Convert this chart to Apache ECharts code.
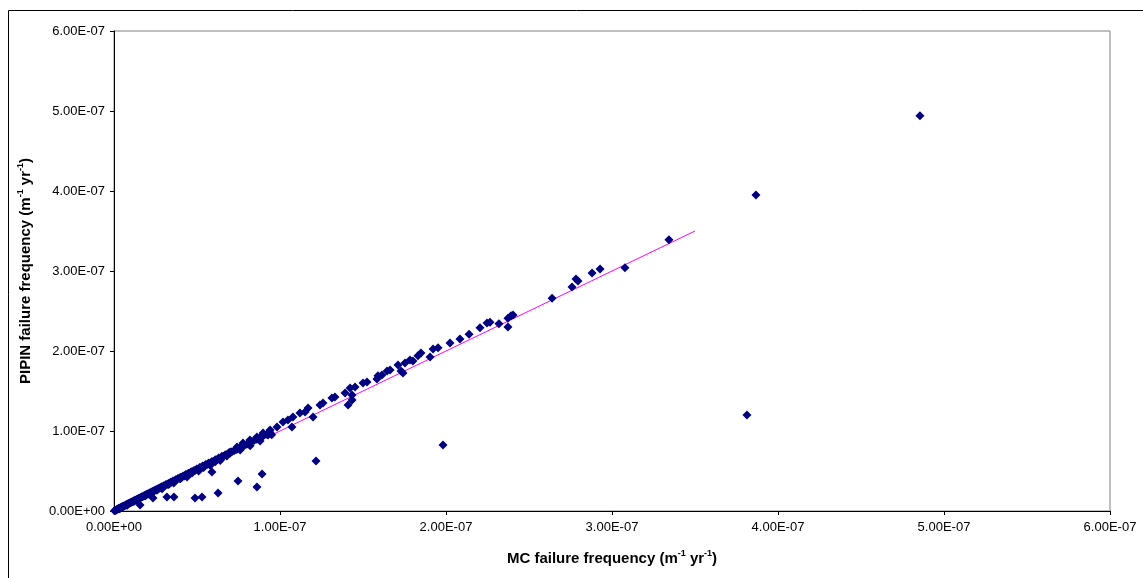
<!DOCTYPE html>
<html>
<head>
<meta charset="utf-8">
<script src="https://cdn.jsdelivr.net/npm/echarts@6/dist/echarts.min.js"></script>
<style>html,body{margin:0;padding:0;background:#fff}#c{width:1143px;height:578px}</style>
</head>
<body>
<div id="c"></div>
<script>
// values in units of 1e-9 (m^-1 yr^-1): [MC, PIPIN]
const UNIT = 1e-9;
const bandPoints = [
 [0.3,0.3],[0.6,0.7],[1,1],[1.3,1.4],[1.7,1.8],[2,2.1],[2.4,2.5],[2.8,3],[3.1,3.2],[3.5,3.7],[4,4.1],[4.3,4.6],[4.8,5],[5.2,5.5],[5.6,5.8],[6,6.4],[6.5,6.7],[7,7.4],[7.4,7.7],[7.9,8.4],[8.3,8.6],[8.8,9.3],[9.2,9.6],[9.7,10.3],[10.2,10.5],[10.6,11.3],[11.1,11.6],[11.6,12.3],[12,12.4],[12.5,13.3],[13,13.5],[13.5,14.3],[14,14.4],[14.6,15.5],[15,15.6],[15.6,16.4],[16.1,16.8],[16.7,17.7],[17.2,17.8],[17.8,18.9],[18.3,19],[18.9,20],[19.4,20.2],[20,21.2],[20.6,21.4],[21.2,22.4],[21.8,22.6],[22.4,23.7],[23,23.8],[23.6,25],[24.2,25.1],[24.8,26.3],[25.4,26.4],[26,27.5],[26.7,27.7],[27.3,28.9],[28,29],[28.6,30.2],[29.3,30.3],[30,31.6],[30.6,31.7],[31.3,33],[32,33.1],[32.7,34.5],[33.4,34.5],[34,35.9],[34.8,36],[35.5,37.4],[36.2,37.4],[37,39],[37.7,39],[38.5,40.6],[39.2,40.5],[40,42.1],[40.8,42.2],[41.6,43.8],[42.4,43.9],[43.2,45.5],[44,45.6],[44.8,47.1],[45.6,47.2],[46.5,49],[47.3,49],[48.2,50.7],[49,50.8],[49.9,52.5],[50.7,52.6],[51.6,54.3],[52.5,54.3],[53.4,56.2],[54.3,56.2],[55.2,58],[56.1,58.1],[57,60],[58,60],[59,62],[60,62],[61,64.1],[62,64.1],[63,66.2],[64,66],[65,68.3],[66,68.2],[67,70.4],[68,70.3],[69,72.5],[70,72.5],
 [5,5],[12,12.1],[19,19.2],[26,26.2],[33,33.2],[40,40.3],[47,47.5],[54,54.5],[61,61.6],[68,68.7],
 [3.5,2.9],[8,7.3],[14.5,13.6],[22,20.8],[29,27.8],[36,35],[44,42.6],[51,50],[58,57],[64,63],
 [71,74],[72.5,75.5],[74,77],[75.5,78.8],[77,80.5],[78.5,82],[80,83.5],[81.5,85.2],[83,86.5],[84.5,88.3],[86,89.6],[88,91.8],[90,94],[92,96],[94,98],[76,76.3],[82,81.5],[88,87.6],[95,95.4]
];
const upperPoints = [
 [69.9,73.8],[74.1,80],[77.7,85],[81.9,88.8],[86.1,92.5],[89.8,97.5],[92.8,95],[94,101.3],[98.2,105],[101.8,111.3],[104.8,113.8],[107.2,105],[107.8,117.5],[112,122.5],[115.1,123.8],[116.9,128.8],[119.9,117.5],[124.1,132.5],[125.9,135],[131.3,141.3],[133.1,142.5],[139.2,147.5],[141,132.5],[143.4,145],[142.2,153.8],[145.2,155],[143.4,138.8],
 [150,160],[152.4,161.3],[158.4,165],[159,169],[161.4,170],[164.5,175],[166.3,176.3],[171.1,182.5],[172.9,175],[174.1,172.5],[175.3,185],[178.3,188.8],[180.1,187.5],[183.1,194],[184.9,197.5],[190.4,192.5],[192.2,202.5],[195.2,204],
 [202.4,210],[208.4,215],[213.9,221],[220.5,229],[224.7,235],[226.5,236],[231.9,234],[237.3,230],[237.3,241],[239.2,244],[240.4,245],
 [263.9,266],[275.9,280],[278.3,290],[279.5,287.5],[288,297.5],[292.8,302.5],[307.8,304],[334.3,339]
];
const outlierPoints = [
 [15.7,7.5],[23.5,16.3],[31.9,17.5],[36.1,17.5],[48.8,16.3],[53,17.5],[62.7,22.5],[59,48.8],[74.7,37.5],[86.1,30],[89.2,46.3],[121.7,62.5],[198.2,82.5],[381.3,120],[386.7,395],[485.5,494]
];
const trendLine = [[0,0],[350,350]];
const xTicks = {min: 0, max: 6e-7, interval: 1e-7};
const yTicks = {min: 0, max: 6e-7, interval: 1e-7};

const toReal = arr => arr.map(p => [p[0]*UNIT, p[1]*UNIT]);
const allPoints = toReal(bandPoints.concat(upperPoints, outlierPoints));

function fmt(v){
  if (Math.abs(v) < 1e-15) return '0.00E+00';
  const s = v.toExponential(2).split('e');
  let e = parseInt(s[1],10);
  const sign = e < 0 ? '-' : '+';
  e = Math.abs(e);
  return s[0] + 'E' + sign + (e < 10 ? '0' + e : '' + e);
}

const FONT = '"Liberation Sans", Arial, sans-serif';
const chart = echarts.init(document.getElementById('c'), null, {renderer:'canvas'});
const richTitle = {
  b: {fontSize: 15, fontWeight: 'bold', fontFamily: FONT, color: '#000', lineHeight: 19},
  sup: {fontSize: 9, fontWeight: 'bold', fontFamily: FONT, color: '#000', verticalAlign: 'top', lineHeight: 11, padding: [0,0,7,0]}
};
chart.setOption({
  animation: false,
  backgroundColor: '#fff',
  graphic: [{
    type: 'rect', silent: true, z: -10,
    shape: {x: 8.5, y: 10.5, width: 1300, height: 800},
    style: {fill: 'none', stroke: '#000', lineWidth: 1}
  }],
  grid: {left: 114, top: 31, right: 33, bottom: 67, show: true, borderColor: '#808080', borderWidth: 1, backgroundColor: 'transparent'},
  xAxis: {
    type: 'value', min: xTicks.min, max: xTicks.max, interval: xTicks.interval,
    name: '{b|MC failure frequency (m}{sup|-1}{b| yr}{sup|-1}{b|)}',
    nameLocation: 'middle', nameGap: 38,
    nameTextStyle: {rich: richTitle},
    axisLine: {show: true, onZero: false, lineStyle: {color: '#000', width: 1}},
    axisTick: {show: true, inside: false, length: 4, lineStyle: {color: '#000'}},
    axisLabel: {formatter: fmt, color: '#000', fontSize: 13, fontFamily: FONT, margin: 10},
    splitLine: {show: false}
  },
  yAxis: {
    type: 'value', min: yTicks.min, max: yTicks.max, interval: yTicks.interval,
    name: '{b|PIPIN failure frequency (m}{sup|-1}{b| yr}{sup|-1}{b|)}',
    nameLocation: 'middle', nameGap: 79, nameRotate: 90,
    nameTextStyle: {rich: richTitle},
    axisLine: {show: true, onZero: false, lineStyle: {color: '#000', width: 1}},
    axisTick: {show: true, inside: false, length: 4, lineStyle: {color: '#000'}},
    axisLabel: {formatter: fmt, color: '#000', fontSize: 13, fontFamily: FONT, margin: 9},
    splitLine: {show: false}
  },
  series: [
    {
      type: 'line', data: toReal(trendLine), showSymbol: false, symbol: 'none',
      lineStyle: {color: '#ff00ff', width: 1}, z: 2, silent: true
    },
    {
      type: 'scatter', data: allPoints, symbol: 'diamond', symbolSize: [9, 9],
      itemStyle: {color: '#000080', opacity: 1}, z: 3, silent: true
    }
  ]
});
</script>
</body>
</html>
